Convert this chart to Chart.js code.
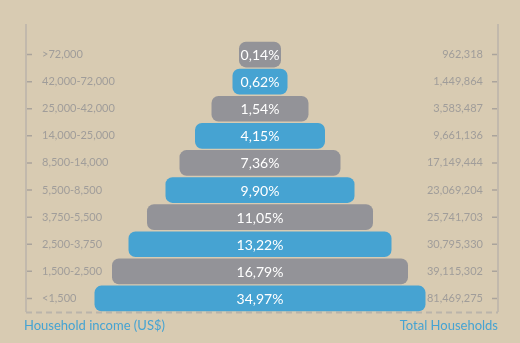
<!DOCTYPE html>
<html>
<head>
<meta charset="utf-8">
<script src="https://cdn.jsdelivr.net/npm/chart.js@4.4.1/dist/chart.umd.min.js"></script>
<style>
  html, body { margin: 0; padding: 0; background: #d8cbb2; }
  #wrap { width: 520px; height: 343px; }
</style>
</head>
<body>
<div id="wrap"><canvas id="piramide"></canvas></div>
<script>
const incomeRanges = [">72,000", "42,000-72,000", "25,000-42,000", "14,000-25,000", "8,500-14,000",
  "5,500-8,500", "3,750-5,500", "2,500-3,750", "1,500-2,500", "<1,500"];
const shares = [0.14, 0.62, 1.54, 4.15, 7.36, 9.90, 11.05, 13.22, 16.79, 34.97];
const households = ["962,318", "1,449,864", "3,583,487", "9,661,136", "17,149,444",
  "23,069,204", "25,741,703", "30,795,330", "39,115,302", "81,469,275"];
// width of each pyramid step (not proportional to the share)
const stepWidth = [42, 55, 97, 130, 161, 189, 226, 263, 296, 331];

const BLUE = "#46a3d2";
const GREY = "#939398";
const LINE = "#bab4aa";
const TEXT_GREY = "#a09d9a";

const marco = {
  id: "marco",
  beforeDraw(chart) {
    const { ctx, width, height } = chart;
    ctx.save();
    ctx.fillStyle = "#d8cbb2";
    ctx.fillRect(0, 0, width, height);
    ctx.restore();
  },
  beforeDatasetsDraw(chart) {
    const { ctx, chartArea: a, scales } = chart;
    const top = a.top - 17;
    ctx.save();
    ctx.strokeStyle = LINE;
    ctx.lineWidth = 1.5;
    ctx.beginPath();
    ctx.moveTo(a.left, top); ctx.lineTo(a.left, a.bottom);
    ctx.moveTo(a.right, top); ctx.lineTo(a.right, a.bottom);
    ctx.stroke();
    // small tick dashes next to the labels
    ctx.strokeStyle = "#aaa49c";
    ctx.beginPath();
    incomeRanges.forEach((_, i) => {
      const y = scales.y.getPixelForTick(i);
      ctx.moveTo(a.left + 1, y); ctx.lineTo(a.left + 6, y);
      ctx.moveTo(a.right - 6, y); ctx.lineTo(a.right - 1, y);
    });
    ctx.stroke();
    // dashed base
    ctx.strokeStyle = LINE;
    ctx.lineWidth = 2;
    ctx.setLineDash([6, 4]);
    ctx.beginPath();
    ctx.moveTo(a.left, a.bottom + 0.5); ctx.lineTo(a.right, a.bottom + 0.5);
    ctx.stroke();
    ctx.restore();
  },
  afterDraw(chart) {
    const { ctx, chartArea: a } = chart;
    ctx.save();
    ctx.fillStyle = BLUE;
    ctx.font = "13px Lato";
    ctx.textBaseline = "middle";
    ctx.textAlign = "left";
    ctx.fillText("Household income (US$)", a.left - 2, a.bottom + 14);
    ctx.textAlign = "right";
    ctx.fillText("Total Households", a.right, a.bottom + 14);
    ctx.restore();
  }
};

const etiquetas = {
  id: "etiquetas",
  afterDatasetsDraw(chart) {
    const { ctx } = chart;
    const meta = chart.getDatasetMeta(0);
    ctx.save();
    ctx.fillStyle = "#ffffff";
    ctx.font = "14px Lato";
    ctx.textAlign = "center";
    ctx.textBaseline = "middle";
    meta.data.forEach((bar, i) => {
      const { x, base, y } = bar.getProps(["x", "base", "y"], true);
      ctx.fillText(shares[i].toFixed(2).replace(".", ",") + "%", (x + base) / 2, y + 1);
    });
    ctx.restore();
  }
};

const sinAncho = scale => { scale.width = 0; };

new Chart(document.getElementById("piramide"), {
  type: "bar",
  data: {
    labels: incomeRanges,
    datasets: [{
      data: stepWidth.map(w => [-w / 2, w / 2]),
      backgroundColor: incomeRanges.map((_, i) => (i % 2 === 0 ? GREY : BLUE)),
      borderRadius: 7,
      borderSkipped: false,
      categoryPercentage: 1,
      barPercentage: 0.95
    }]
  },
  options: {
    indexAxis: "y",
    responsive: true,
    maintainAspectRatio: false,
    animation: false,
    devicePixelRatio: 1,
    layout: { padding: { left: 26, right: 22, top: 41, bottom: 31 } },
    plugins: { legend: { display: false }, tooltip: { enabled: false } },
    scales: {
      x: { display: false, min: -234, max: 238 },
      y: {
        position: "left",
        afterFit: sinAncho,
        border: { display: false },
        grid: { display: false, drawTicks: false },
        ticks: { mirror: true, padding: 16, color: TEXT_GREY, font: { family: "Lato", size: 11 } }
      },
      y2: {
        type: "category",
        position: "right",
        labels: households,
        offset: true,
        afterFit: sinAncho,
        border: { display: false },
        grid: { display: false, drawTicks: false },
        ticks: { mirror: true, padding: -15, color: TEXT_GREY, font: { family: "Lato", size: 11 } }
      }
    }
  },
  plugins: [marco, etiquetas]
});
</script>
</body>
</html>
